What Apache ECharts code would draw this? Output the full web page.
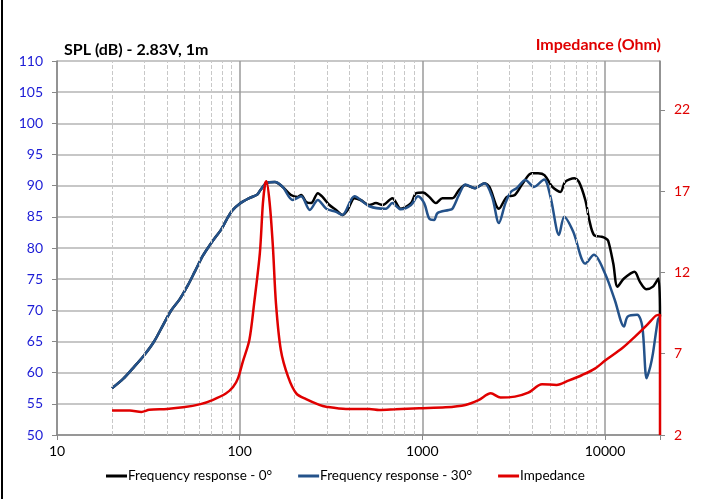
<!DOCTYPE html>
<html>
<head>
<meta charset="utf-8">
<script src="https://cdn.jsdelivr.net/npm/echarts@6/dist/echarts.min.js"></script>
<style>
  html, body { margin: 0; padding: 0; background: #fff; }
  #main { width: 707px; height: 499px; }
</style>
</head>
<body>
<div id="main"></div>
<script>
// frequency response - 0 deg
var freq0 = [20, 23, 26, 30, 34, 38, 42, 47, 52, 57, 63, 68, 74, 79, 85, 91, 100, 113, 125, 130, 140, 156, 172, 191, 208, 217, 231, 246, 268, 284, 310, 337, 365, 390, 425, 459, 513, 557, 606, 685, 762, 867, 925, 1008, 1091, 1185, 1288, 1461, 1586, 1720, 1944, 2190, 2330, 2625, 2900, 3210, 3550, 3965, 4300, 4660, 5150, 5700, 6050, 6800, 7200, 7800, 8200, 8700, 9600, 10000, 10400, 11100, 11700, 12700, 14500, 15500, 16800, 18300, 19600, 20000];
var spl0 = [57.5, 59.0, 60.7, 62.8, 65.0, 67.6, 69.9, 71.8, 74.0, 76.3, 78.8, 80.3, 81.8, 82.9, 84.6, 86.0, 87.1, 88.0, 88.6, 89.3, 90.4, 90.6, 89.8, 88.5, 88.2, 88.5, 87.4, 87.2, 88.8, 88.2, 86.9, 86.1, 85.3, 86.1, 88.0, 87.7, 86.9, 87.2, 86.9, 88.0, 86.3, 87.2, 88.8, 88.9, 88.2, 87.2, 88.0, 88.0, 89.3, 90.1, 89.6, 90.4, 89.8, 86.3, 88.2, 88.5, 90.4, 92.0, 92.0, 91.7, 89.8, 89.0, 90.6, 91.2, 90.6, 87.7, 84.5, 82.1, 81.8, 81.6, 81.2, 77.5, 73.8, 75.1, 76.2, 74.6, 73.4, 73.8, 75.1, 69.0];

// frequency response - 30 deg
var freq30 = [20, 23, 26, 30, 34, 38, 42, 47, 52, 57, 63, 68, 74, 79, 85, 91, 100, 113, 125, 130, 140, 156, 172, 195, 217, 242, 268, 298, 337, 365, 425, 513, 632, 685, 762, 867, 947, 1023, 1091, 1160, 1210, 1394, 1461, 1586, 1720, 1944, 2190, 2410, 2625, 2850, 3050, 3280, 3670, 4080, 4640, 5030, 5600, 5980, 6700, 7800, 8700, 10000, 11300, 12700, 13300, 15000, 16000, 16900, 17700, 18300, 19500, 20000];
var spl30 = [57.5, 59.0, 60.7, 62.8, 65.0, 67.6, 69.9, 71.8, 74.0, 76.3, 78.8, 80.3, 81.8, 82.9, 84.6, 86.0, 87.1, 88.0, 88.6, 89.3, 90.4, 90.6, 89.8, 87.7, 88.3, 86.1, 87.7, 86.3, 85.8, 85.3, 88.3, 86.7, 86.3, 87.2, 86.2, 86.9, 88.3, 87.2, 84.7, 84.5, 85.6, 86.1, 86.3, 88.5, 90.2, 89.6, 90.4, 88.2, 84.0, 87.2, 89.0, 89.6, 90.9, 89.8, 91.0, 88.2, 82.1, 85.0, 82.6, 77.5, 78.9, 75.9, 71.7, 67.4, 69.0, 69.3, 67.4, 59.1, 61.0, 63.1, 68.5, 69.0];

// impedance (Ohm)
var freqZ = [20, 25, 29, 32, 40, 49, 61, 71, 84, 92, 98, 104, 113, 120, 129, 134, 138, 140, 146, 152, 158, 168, 184, 204, 231, 273, 297, 382, 513, 580, 713, 961, 1340, 1720, 2030, 2370, 2680, 3210, 3800, 4520, 5430, 6300, 7500, 8850, 10100, 12400, 14600, 17000, 19000, 20000, 20000];
var imp = [3.5, 3.5, 3.42, 3.55, 3.6, 3.7, 3.9, 4.15, 4.55, 4.95, 5.5, 6.5, 7.84, 10.1, 13.2, 16.25, 17.5, 17.6, 16.25, 13.6, 10.1, 7.23, 5.59, 4.56, 4.2, 3.85, 3.74, 3.6, 3.6, 3.54, 3.58, 3.64, 3.7, 3.85, 4.15, 4.56, 4.3, 4.36, 4.6, 5.12, 5.08, 5.34, 5.69, 6.1, 6.61, 7.33, 8.05, 8.77, 9.34, 9.4, 2];

// minor (dashed) grid lines
var minorFreqs = [20, 30, 40, 50, 60, 70, 80, 90, 200, 300, 400, 500, 600, 700, 800, 900, 2000, 3000, 4000, 5000, 6000, 7000, 8000, 9000];
var xTickLabels = ['10', '100', '1000', '10000'];
var seriesNames = ['Frequency response - 0°', 'Frequency response - 30°', 'Impedance'];

function zip(xs, ys) {
    return xs.map(function (x, i) { return [x, ys[i]]; });
}

var myChart = echarts.init(document.getElementById('main'));
var font = 'Lato';

var option = {
    animation: false,
    textStyle: { fontFamily: font },
    title: [
        {
            text: 'SPL (dB) - 2.83V, 1m',
            left: 59, top: 37,
            textStyle: { fontFamily: font, fontSize: 16, fontWeight: 'bold', color: '#000' }
        },
        {
            text: 'Impedance (Ohm)',
            right: 41, top: 32,
            textStyle: { fontFamily: font, fontSize: 16, fontWeight: 'bold', color: '#e00000' }
        }
    ],
    legend: {
        data: seriesNames,
        bottom: 11,
        left: 101,
        itemWidth: 21,
        itemHeight: 3,
        itemGap: 26,
        icon: 'rect',
        textStyle: { fontFamily: font, fontSize: 13.5, color: '#000', padding: [0, 0, 0, -4] }
    },
    grid: { left: 57, right: 47, top: 61, bottom: 64 },
    xAxis: {
        type: 'log',
        logBase: 10,
        min: 10,
        max: 20000,
        axisLine: { lineStyle: { color: '#888', width: 1.5 } },
        axisTick: { show: true, length: 5, lineStyle: { color: '#888' } },
        axisLabel: {
            color: '#000', fontSize: 14, fontFamily: font, margin: 9,
            formatter: function (v) {
                var s = String(Math.round(v));
                return xTickLabels.indexOf(s) >= 0 ? s : '';
            }
        },
        splitLine: { show: true, lineStyle: { color: '#9a9a9a', width: 1.5 } }
    },
    yAxis: [
        {
            type: 'value',
            min: 50, max: 110, interval: 5,
            axisLine: { show: true, lineStyle: { color: '#888', width: 1.5 } },
            axisTick: { show: true, length: 5, lineStyle: { color: '#888' } },
            axisLabel: { color: '#1c1cd6', fontSize: 14, fontFamily: font, margin: 14 },
            splitLine: { lineStyle: { color: '#b4b4b4', width: 1.5 } }
        },
        {
            type: 'value',
            min: 2, max: 25, interval: 5,
            position: 'right',
            axisLine: { show: true, lineStyle: { color: '#888', width: 1.5 } },
            axisTick: { show: true, length: 5, lineStyle: { color: '#888' } },
            axisLabel: { color: '#e00000', fontSize: 14, fontFamily: font, margin: 14, showMaxLabel: false },
            splitLine: { show: false }
        }
    ],
    series: [
        {
            name: 'minor',
            type: 'line',
            data: [[10, 50]],
            showSymbol: false,
            lineStyle: { opacity: 0 },
            silent: true,
            z: 1,
            markLine: {
                silent: true,
                symbol: ['none', 'none'],
                label: { show: false },
                lineStyle: { type: 'dashed', color: '#c8c8c8', width: 1 },
                data: minorFreqs.map(function (f) { return { xAxis: f }; })
            }
        },
        {
            name: seriesNames[0],
            type: 'line',
            data: zip(freq0, spl0),
            showSymbol: false,
            smooth: 0.3,
            itemStyle: { color: '#000' },
            lineStyle: { color: '#000', width: 2.5 },
            z: 3
        },
        {
            name: seriesNames[1],
            type: 'line',
            data: zip(freq30, spl30),
            showSymbol: false,
            smooth: 0.3,
            itemStyle: { color: '#24528a' },
            lineStyle: { color: '#24528a', width: 2.5 },
            z: 4
        },
        {
            name: seriesNames[2],
            type: 'line',
            yAxisIndex: 1,
            data: zip(freqZ, imp),
            showSymbol: false,
            smooth: 0.3,
            itemStyle: { color: '#e00000' },
            lineStyle: { color: '#e00000', width: 2.5 },
            z: 5
        }
    ],
    graphic: [
        {
            type: 'rect',
            shape: { x: 1, y: 0, width: 2, height: 499 },
            style: { fill: '#000' }
        }
    ]
};

myChart.setOption(option);
</script>
</body>
</html>
